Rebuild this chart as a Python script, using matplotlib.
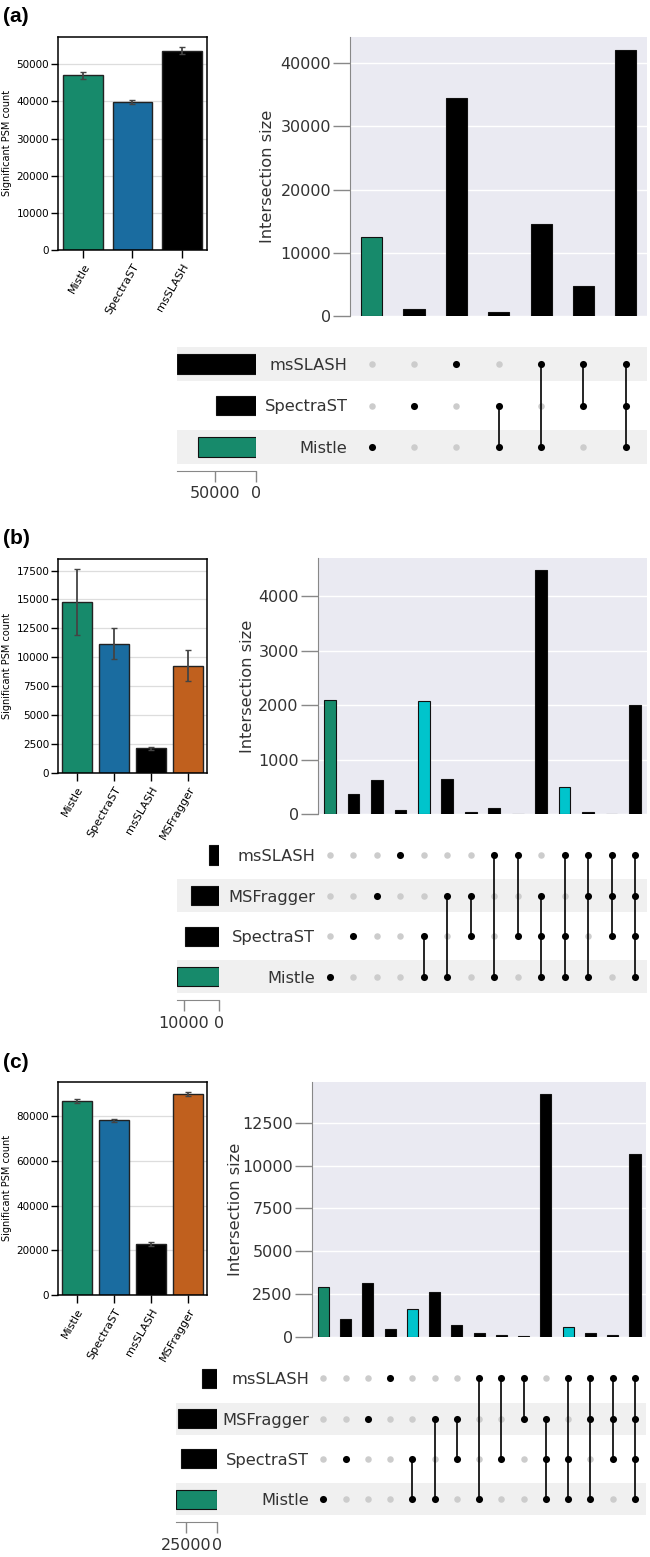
import matplotlib
matplotlib.use("Agg")
import matplotlib.pyplot as plt
from matplotlib.patches import Rectangle
from matplotlib.ticker import MultipleLocator

W, H = 650, 1557

GREEN = "#178a6b"
BLUE = "#1a6ca0"
ORANGE = "#c0601e"
CYAN = "#00c4cc"
TOOL_COLORS = {"Mistle": GREEN, "SpectraST": BLUE, "msSLASH": "black", "MSFragger": ORANGE}

# ---- panel (a)
a_tools = ["Mistle", "SpectraST", "msSLASH"]
a_psm = [47000, 39800, 53700]
a_err = [1000, 600, 1000]
a_rows = ["Mistle", "SpectraST", "msSLASH"]  # bottom to top
a_combos = [("Mistle",), ("SpectraST",), ("msSLASH",),
            ("Mistle", "SpectraST"), ("Mistle", "msSLASH"), ("SpectraST", "msSLASH"),
            ("Mistle", "SpectraST", "msSLASH")]
a_inter = [12500, 1160, 34420, 690, 14530, 4680, 42050]
a_total_ticks = [50000, 0]

# ---- panel (b)
b_tools = ["Mistle", "SpectraST", "msSLASH", "MSFragger"]
b_psm = [14750, 11180, 2100, 9270]
b_err = [2850, 1370, 150, 1340]
b_rows = ["Mistle", "SpectraST", "MSFragger", "msSLASH"]
b_combos = [("Mistle",), ("SpectraST",), ("MSFragger",), ("msSLASH",),
            ("Mistle", "SpectraST"), ("Mistle", "MSFragger"), ("SpectraST", "MSFragger"),
            ("Mistle", "msSLASH"), ("SpectraST", "msSLASH"),
            ("Mistle", "SpectraST", "MSFragger"), ("Mistle", "SpectraST", "msSLASH"),
            ("Mistle", "MSFragger", "msSLASH"), ("SpectraST", "MSFragger", "msSLASH"),
            ("Mistle", "SpectraST", "MSFragger", "msSLASH")]
b_inter = [2090, 365, 625, 75, 2085, 650, 40, 115, 8, 4470, 505, 45, 8, 2010]
b_total_ticks = [10000, 0]

# ---- panel (c)
c_tools = ["Mistle", "SpectraST", "msSLASH", "MSFragger"]
c_psm = [86800, 78100, 22900, 89900]
c_err = [800, 700, 900, 900]
c_rows = ["Mistle", "SpectraST", "MSFragger", "msSLASH"]
c_combos = [("Mistle",), ("SpectraST",), ("MSFragger",), ("msSLASH",),
            ("Mistle", "SpectraST"), ("Mistle", "MSFragger"), ("SpectraST", "MSFragger"),
            ("Mistle", "msSLASH"), ("SpectraST", "msSLASH"), ("MSFragger", "msSLASH"),
            ("Mistle", "SpectraST", "MSFragger"), ("Mistle", "SpectraST", "msSLASH"),
            ("Mistle", "MSFragger", "msSLASH"), ("SpectraST", "MSFragger", "msSLASH"),
            ("Mistle", "SpectraST", "MSFragger", "msSLASH")]
c_inter = [2920, 1050, 3150, 430, 1590, 2640, 660, 215, 100, 40, 14190, 545, 195, 100, 10690]
c_total_ticks = [25000, 0]


def px_axes(fig, box):
    x0, y0, x1, y1 = box
    return fig.add_axes([x0 / W, 1 - y1 / H, (x1 - x0) / W, (y1 - y0) / H])


def draw_panel(fig, label, tools, psm, err, ystep, rows, combos, inter, istep,
               total_ticks, highlight, lay):
    fig.text(3 / W, 1 - lay["label_y"] / H, f"({label})", fontsize=15,
             fontweight="bold", family="Liberation Sans", va="center", ha="left")

    # left: bar chart of PSM counts
    ax = px_axes(fig, lay["bars"])
    xs = list(range(len(tools)))
    ax.bar(xs, psm, width=0.8, color=[TOOL_COLORS[t] for t in tools],
           edgecolor="#222222", linewidth=1, zorder=2)
    ax.errorbar(xs, psm, yerr=err, fmt="none", ecolor="#444444",
                elinewidth=1.3, capsize=2, capthick=1, zorder=3)
    ax.set_xlim(-0.5, len(tools) - 0.5)
    ax.set_ylim(0, max(p + e for p, e in zip(psm, err)) * 1.05)
    ax.yaxis.set_major_locator(MultipleLocator(ystep))
    ax.yaxis.grid(True, color="#dddddd", lw=0.9)
    ax.set_axisbelow(True)
    ax.set_xticks(xs, tools, rotation=60, ha="right", rotation_mode="anchor")
    ax.tick_params(axis="y", labelsize=7.5, length=5, width=1, pad=1.5)
    ax.tick_params(axis="x", labelsize=8, length=6, width=1, pad=2.5)
    for sp in ax.spines.values():
        sp.set_linewidth(1.1)
    ax.set_ylabel("Significant PSM count", fontsize=7)
    bx0, _, bx1, _ = lay["bars"]
    ax.yaxis.set_label_coords((7.5 - bx0) / (bx1 - bx0), 0.5)
    ax.yaxis.label.set_verticalalignment("center")

    # upset: intersection sizes
    ix0, iy0, ix1, iy1 = lay["inter"]
    ai = px_axes(fig, lay["inter"])
    n = len(combos)
    ai.bar(range(n), inter, width=0.5,
           color=[highlight.get(i, "black") for i in range(n)],
           edgecolor="#111111", linewidth=0.8, zorder=2)
    ai.set_facecolor("#eaeaf2")
    ai.set_xlim(-0.5, n - 0.5)
    ai.set_ylim(0, max(inter) * 1.05)
    ai.yaxis.set_major_locator(MultipleLocator(istep))
    ai.yaxis.grid(True, color="white", lw=1)
    ai.set_axisbelow(True)
    for s in ["top", "right", "bottom"]:
        ai.spines[s].set_visible(False)
    ai.spines["left"].set_color("#888888")
    ai.set_xticks([])
    ai.tick_params(axis="y", length=12, width=1, color="#888888",
                   labelsize=11.5, labelcolor="#333333", pad=2)
    ai.set_ylabel("Intersection size", fontsize=11.7, color="#333333")
    ai.yaxis.set_label_coords((lay["ylabel_x"] - ix0) / (ix1 - ix0), 0.5)
    ai.yaxis.label.set_verticalalignment("center")

    # matrix
    r_bot, r_top = lay["rows_y"]
    nr = len(rows)
    s = (r_bot - r_top) / (nr - 1)
    mbox = (ix0, r_top - s / 2, ix1, r_bot + s / 2)
    am = px_axes(fig, mbox)
    am.patch.set_alpha(0)
    am.set_xlim(-0.5, n - 0.5)
    am.set_ylim(-0.5, nr - 0.5)
    for i, combo in enumerate(combos):
        on = [rows.index(t) for t in combo]
        off = [j for j in range(nr) if j not in on]
        am.scatter([i] * len(off), off, s=22, color="#cccccc", linewidths=0, zorder=2)
        if len(on) > 1:
            am.plot([i, i], [min(on), max(on)], color="black", lw=1.2, zorder=3)
        am.scatter([i] * len(on), on, s=26, color="black", linewidths=0, zorder=4)
    am.set_yticks(range(nr), rows)
    am.tick_params(axis="y", length=0, pad=2.2, labelsize=11.7, labelcolor="#333333")
    am.set_xticks([])
    for sp in am.spines.values():
        sp.set_visible(False)

    # stripes behind alternate rows
    sx0 = lay["totals_x"][0]
    for j in range(0, nr, 2):
        yc = r_bot - j * s
        h = 0.8 * s
        rect = Rectangle((sx0 / W, 1 - (yc + h / 2) / H), (ix1 - sx0) / W, h / H,
                         transform=fig.transFigure, facecolor="#f0f0f0",
                         edgecolor="none", zorder=-1)
        fig.add_artist(rect)

    # set totals
    tx0, tx1 = lay["totals_x"]
    at = px_axes(fig, (tx0, mbox[1], tx1, mbox[3]))
    at.patch.set_alpha(0)
    totals = [sum(v for c, v in zip(combos, inter) if r in c) for r in rows]
    at.barh(range(nr), totals, height=0.47,
            color=[GREEN if r == "Mistle" else "black" for r in rows],
            edgecolor="#111111", linewidth=0.8)
    at.set_xlim(max(totals), 0)
    at.set_ylim(-0.5, nr - 0.5)
    for sp in ["top", "right", "left"]:
        at.spines[sp].set_visible(False)
    at.spines["bottom"].set_position(("outward", 2))
    at.spines["bottom"].set_color("#888888")
    at.set_yticks([])
    at.set_xticks(total_ticks)
    at.tick_params(axis="x", length=8, width=1, color="#888888",
                   labelsize=11.5, labelcolor="#333333")


fig = plt.figure(figsize=(W / 100, H / 100), dpi=100)

draw_panel(fig, "a", a_tools, a_psm, a_err, 10000, a_rows, a_combos, a_inter, 10000,
           a_total_ticks, {0: GREEN},
           dict(label_y=16, bars=(58.3, 36.7, 206.7, 250), inter=(350.5, 37, 647, 316),
                ylabel_x=268, rows_y=(447, 364), totals_x=(177, 256)))

draw_panel(fig, "b", b_tools, b_psm, b_err, 2500, b_rows, b_combos, b_inter, 1000,
           b_total_ticks, {0: GREEN, 4: CYAN, 10: CYAN},
           dict(label_y=538, bars=(58.3, 559.3, 206.7, 772.7), inter=(318.3, 558.3, 646.7, 814.3),
                ylabel_x=248, rows_y=(976.7, 855), totals_x=(176.5, 219.3)))

draw_panel(fig, "c", c_tools, c_psm, c_err, 20000, c_rows, c_combos, c_inter, 2500,
           c_total_ticks, {0: GREEN, 4: CYAN, 11: CYAN},
           dict(label_y=1063, bars=(58.3, 1081.7, 206.7, 1295), inter=(312.2, 1081.7, 646.1, 1336.7),
                ylabel_x=235, rows_y=(1499.3, 1378.3), totals_x=(176, 217.3)))

fig.savefig("out.png", dpi=100)
